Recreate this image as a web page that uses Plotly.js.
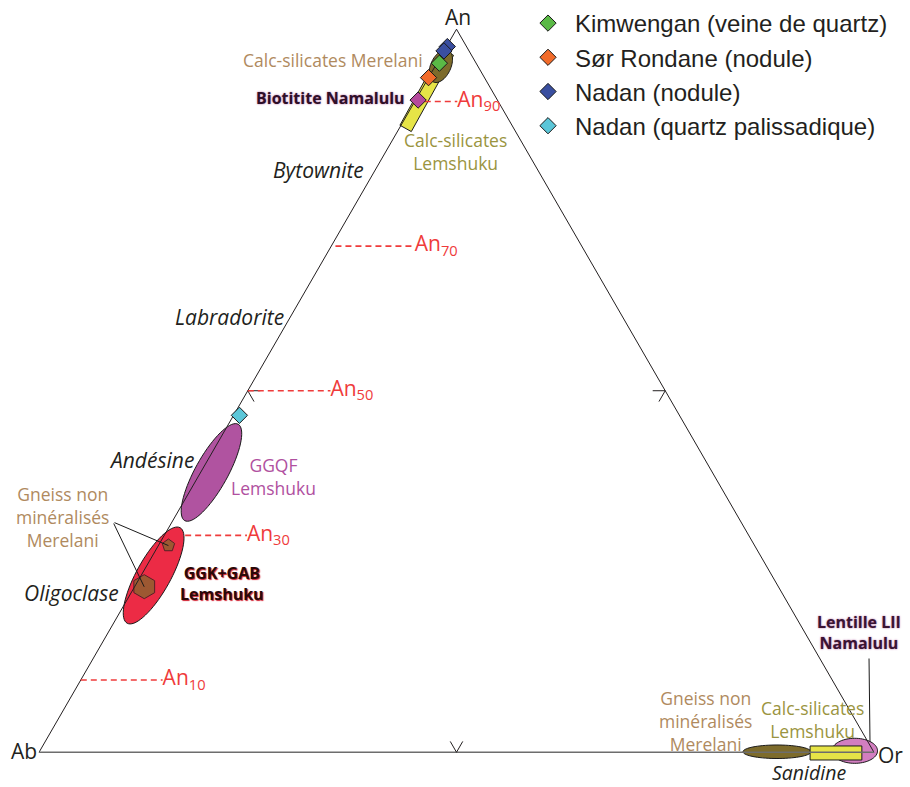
<!DOCTYPE html>
<html>
<head>
<meta charset="utf-8">
<script src="https://cdn.plot.ly/plotly-3.0.1.min.js"></script>
<style>
    html, body { margin: 0; padding: 0; background: #fff; }
    #chart { width: 910px; height: 787px; }
</style>
</head>
<body>
<div id="chart"></div>
<script>
/* Feldspar ternary An - Ab - Or (values in %) */

// An reference levels on the Ab-An join
const anLevels = [10, 30, 50, 70, 90];
const anDashFrom = [0, 2.5, 0, 0.5, 1.2];   // Or % where the dashed guide starts
const anDashTo = [9.8, 9.9, 9.9, 10, 5.1];   // Or % where it stops (label there)

// analysed feldspars
const kimAn = [95.3], kimAb = [4.4], kimOr = [0.3];
const sorAn = [93.3], sorAb = [6.7], sorOr = [0];
const nadNodAn = [97.6, 97.0], nadNodAb = [2.3, 3.0], nadNodOr = [0.1, 0];
const nadQzAn = [46.6], nadQzAb = [52.7], nadQzOr = [0.7];
const bioAn = [90.2], bioAb = [9.5], bioOr = [0.3];

// non mineralised gneiss, Merelani (inside the GGK+GAB field)
const gneissAn = [28.6, 22.9], gneissAb = [70.2, 75.95], gneissOr = [1.2, 1.15];

// compositional fields: centre (An, Or), half extent along / across, tilt (deg)
const fieldNames = ['GGQF Lemshuku', 'GGK+GAB Lemshuku', 'Calc-silicates Lemshuku (An)',
    'Calc-silicates Merelani', 'Lentille LII Namalulu', 'Gneiss Merelani (Or)', 'Calc-silicates Lemshuku (Or)'];
const fieldAn = [38.7, 24.45, 91.55, 94.9, 0.2, 0.07, -0.1];
const fieldOr = [1.3, 1.5, 0.66, 0.67, 97.6, 88.35, 95.5];
const fieldLong = [6.6, 6.54, 5.22, 2.1, 2.73, 4.07, 3.1];
const fieldShort = [1.95, 2.04, 0.78, 1.2, 1.5, 0.81, 0.84];
const fieldTilt = [61, 61, 61, 65, 0, 0, 0];
const fieldShape = ['ellipse', 'ellipse', 'rect', 'ellipse', 'ellipse', 'ellipse', 'rect'];
const fieldColors = ['#b053a0', '#ec2b45', '#e6e447', '#7d6b2b', '#d27ec0', '#7d6b2b', '#e6e447'];

// mid-side chevrons (An, Ab, Or), broken by nulls
const tickAn = [50, 50, 48.5, null, 50, 50, 48.5, null, 1.5, 0, 1.5];
const tickAb = [48.5, 50, 50, null, 1.5, 0, 1.5, null, 48.5, 50, 50];
const tickOr = [1.5, 0, 1.5, null, 48.5, 50, 50, null, 50, 50, 48.5];

// Plotly clips lines and fills to the ternary triangle, so the drawn
// triangle is a larger one and the An-Ab-Or diagram sits inside it,
// every component shifted by K
const K = 2;
const sh = arr => arr.map(v => (v === null ? null : v + K));

const SQ = Math.sqrt(3) / 2;

function fieldOutline(i) {
    const cx = fieldOr[i] + fieldAn[i] / 2, cy = fieldAn[i] * SQ;
    const t = fieldTilt[i] * Math.PI / 180;
    const local = fieldShape[i] === 'rect'
        ? [[1, 1], [-1, 1], [-1, -1], [1, -1], [1, 1]]
        : Array.from({ length: 73 }, (_, k) => [Math.cos(k * Math.PI / 36), Math.sin(k * Math.PI / 36)]);
    const a = [], b = [], c = [];
    local.forEach(([u, v]) => {
        const dx = u * fieldLong[i], dy = v * fieldShort[i];
        const x = cx + dx * Math.cos(t) - dy * Math.sin(t);
        const y = cy + dx * Math.sin(t) + dy * Math.cos(t);
        const an = y / SQ, or = x - an / 2;
        a.push(an); c.push(or); b.push(100 - an - or);
    });
    return { a: sh(a), b: sh(b), c: sh(c) };
}

function fieldTrace(i) {
    return {
        type: 'scatterternary', mode: 'lines', name: fieldNames[i], ...fieldOutline(i),
        fill: 'toself', fillcolor: fieldColors[i],
        line: { color: '#1a1a1a', width: 1 },
        showlegend: false, hoverinfo: 'skip', cliponaxis: false
    };
}

function diamonds(name, a, b, c, color, showlegend) {
    return {
        type: 'scatterternary', mode: 'markers', name, a: sh(a), b: sh(b), c: sh(c),
        marker: { symbol: 'diamond', size: 12.5, color, line: { color: '#1a1a1a', width: 1 } },
        showlegend, cliponaxis: false
    };
}

function edge(a, b, c, color, width) {
    return {
        type: 'scatterternary', mode: 'lines', a: sh(a), b: sh(b), c: sh(c),
        line: { color, width }, showlegend: false, hoverinfo: 'skip'
    };
}

// dashed An guides, one polyline broken by nulls
const dashA = [], dashB = [], dashC = [];
anLevels.forEach((v, i) => {
    dashA.push(v, v, null);
    dashC.push(anDashFrom[i], anDashTo[i], null);
    dashB.push(100 - v - anDashFrom[i], 100 - v - anDashTo[i], null);
});

const INK = '#231f20', TAN = '#b08a5e', OLIVE = '#9a9440';

const data = [
    fieldTrace(0),
    fieldTrace(1),
    {
        type: 'scatterternary', mode: 'markers', a: sh(gneissAn), b: sh(gneissAb), c: sh(gneissOr),
        marker: { symbol: ['pentagon', 'hexagon'], size: [13, 24], color: '#7d6b2b', line: { color: '#1a1a1a', width: 1 } },
        showlegend: false, cliponaxis: false
    },
    fieldTrace(2),
    fieldTrace(3),
    fieldTrace(5),
    fieldTrace(4),
    fieldTrace(6),
    edge([0, 100, 0], [100, 0, 0], [0, 0, 100], INK, 1),
    edge([0, 0], [100, 0], [0, 100], '#6d6d6d', 1.5),
    edge(tickAn, tickAb, tickOr, INK, 1),
    {
        type: 'scatterternary', mode: 'lines', a: sh(dashA), b: sh(dashB), c: sh(dashC),
        line: { color: '#ef3b3b', width: 1.6, dash: '6px,4px' }, showlegend: false
    },
    {
        type: 'scatterternary', mode: 'text',
        a: sh(anLevels), c: sh(anDashTo), b: sh(anLevels.map((v, i) => 100 - v - anDashTo[i])),
        text: anLevels.map(v => 'An<sub>' + v + '</sub>'),
        textposition: 'middle right',
        textfont: { family: 'Open Sans', size: 21, color: '#ef3b3b' },
        showlegend: false, cliponaxis: false
    },
    diamonds('Biotitite Namalulu', bioAn, bioAb, bioOr, '#b54a9c', false),
    diamonds('Kimwengan (veine de quartz)', kimAn, kimAb, kimOr, '#5ab946', true),
    diamonds('Sør Rondane (nodule)', sorAn, sorAb, sorOr, '#f26b2a', true),
    diamonds('Nadan (nodule)', nadNodAn, nadNodAb, nadNodOr, '#3a4fa0', true),
    diamonds('Nadan (quartz palissadique)', nadQzAn, nadQzAb, nadQzOr, '#5bc6d8', true)
];

// plot box (px): the outer triangle fills it
const L = 14, T = 0, W = 885, H = 767;
// diagram triangle in px: Ab corner x, base y, side length
const AB_X = 39, BASE_Y = 752.4, SIDE = 835;
const px = (an, or) => [AB_X + (or + an / 2) * SIDE / 100, BASE_Y - an * SQ * SIDE / 100];
const paperX = x => (x - L) / W;
const paperY = y => (T + H - y) / H;

function note(text, x, y, font, xanchor) {
    return {
        xref: 'paper', yref: 'paper', x: paperX(x), y: paperY(y),
        text, showarrow: false, xanchor: xanchor || 'center', yanchor: 'middle', align: 'center',
        font: { family: 'Open Sans', size: 17.5, color: INK, ...font }
    };
}

// thin leader from a label (lx, ly in px) to a point of the diagram
function leader(target, lx, ly) {
    return {
        xref: 'paper', yref: 'paper', x: paperX(target[0]), y: paperY(target[1]),
        ax: lx - target[0], ay: ly - target[1], text: '',
        showarrow: true, arrowhead: 0, arrowwidth: 1, arrowcolor: '#1a1a1a', standoff: 0, startstandoff: 0
    };
}

const italic = { size: 21, style: 'italic', color: INK };

const annotations = [
    note('An', 458, 17, { size: 21 }),
    note('Ab', 24, 751, { size: 21 }),
    note('Or', 890, 755, { size: 21 }),
    note('Calc-silicates Merelani', 425, 60, { color: TAN }, 'right'),
    note('Biotitite Namalulu', 407, 98, { size: 16, weight: 700, color: '#2e0f28', shadow: '0 0 2px #b0609e' }, 'right'),
    note('Calc-silicates<br>Lemshuku', 455, 151.5, { color: OLIVE }),
    note('Bytownite', 366, 170, italic, 'right'),
    note('Labradorite', 286, 317, italic, 'right'),
    note('Andésine', 196, 460, italic, 'right'),
    note('GGQF<br>Lemshuku', 273, 476.5, { color: '#b050a0' }),
    note('Gneiss non<br>minéralisés<br>Merelani', 62, 517, { color: TAN }),
    note('GGK+GAB<br>Lemshuku', 221.5, 583.5, { size: 16, weight: 700, color: '#2a0808', shadow: '1px 1px 1px #d02030' }),
    note('Oligoclase', 121, 593, italic, 'right'),
    note('Gneiss non<br>minéralisés<br>Merelani', 705, 720.5, { color: TAN }),
    note('Calc-silicates<br>Lemshuku', 812, 719, { color: OLIVE }),
    note('Lentille LII<br>Namalulu', 859, 632.5, { size: 16, weight: 700, color: '#3a1433', shadow: '0 0 2px #b0609e' }),
    note('Sanidine', 808.5, 772.5, { size: 19.5, style: 'italic', color: INK }),
    leader(px(gneissAn[0], gneissOr[0]), 113, 522),
    leader(px(gneissAn[1], gneissOr[1]), 113, 522),
    leader([870, 742], 869, 657)
];

const hiddenAxis = {
    title: { text: '' }, min: 0,
    showgrid: false, showticklabels: false, showline: false, ticks: ''
};

const layout = {
    width: 910,
    height: 787,
    margin: { l: L, r: 910 - L - W, t: T, b: 787 - T - H, autoexpand: false },
    paper_bgcolor: '#fff',
    font: { family: 'Open Sans', color: INK },
    ternary: {
        sum: 100 + 3 * K,
        bgcolor: 'rgba(0,0,0,0)',
        aaxis: hiddenAxis,
        baxis: hiddenAxis,
        caxis: hiddenAxis
    },
    showlegend: true,
    legend: {
        x: paperX(521), xanchor: 'left',
        y: paperY(1), yanchor: 'top',
        itemwidth: 44,
        bgcolor: 'rgba(0,0,0,0)',
        font: { family: 'Liberation Sans, Arial, sans-serif', size: 24, color: INK }
    },
    annotations
};

Plotly.newPlot('chart', data, layout, { displayModeBar: false, staticPlot: true });
</script>
</body>
</html>
